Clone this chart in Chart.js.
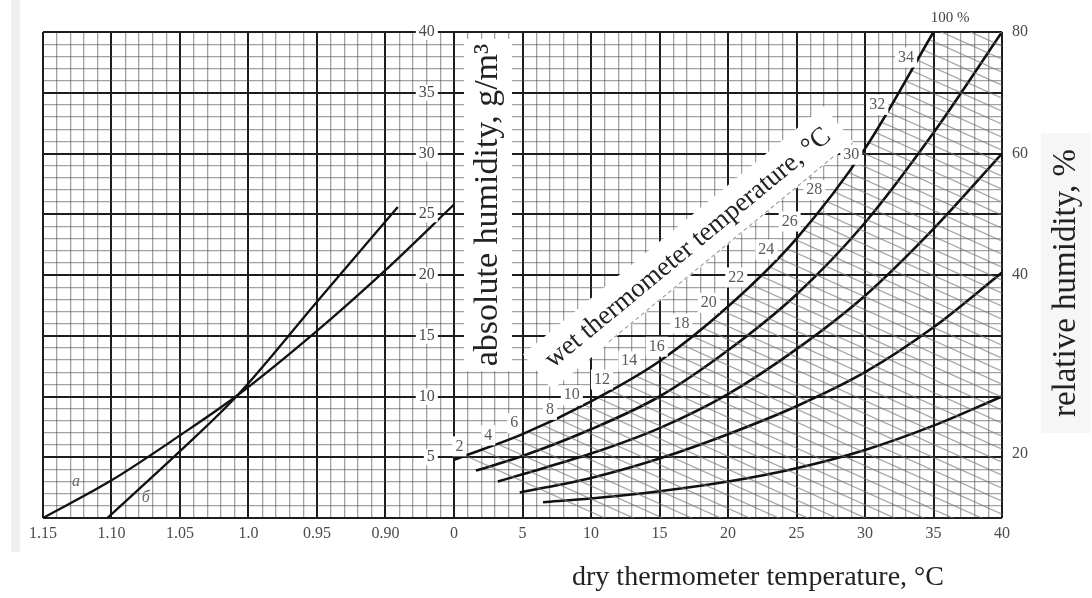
<!DOCTYPE html>
<html>
<head>
<meta charset="utf-8">
<title>Psychrometric chart</title>
<script src="https://cdn.jsdelivr.net/npm/chart.js@4.4.1/dist/chart.umd.min.js"></script>
<style>
    html, body { margin: 0; padding: 0; background: #fff; }
    #wrap { position: relative; width: 1092px; height: 598px; }
    #edge { position: absolute; left: 11px; top: 0; width: 9px; height: 552px; background: #efefef; }
    canvas { position: absolute; left: 0; top: 0; }
</style>
</head>
<body>
<div id="wrap">
    <div id="edge"></div>
    <canvas id="chart" width="1092" height="598"></canvas>
</div>
<script>
// relative humidity curves: dry temperature (°C) -> absolute humidity (g/m3)
const rh100X = [0, 5, 10, 15, 20, 25, 30, 35];
const rh100Y = [4.8, 6.9, 9.6, 12.9, 17.4, 23.0, 30.4, 40];
const rh80X = [1.6, 5, 10, 15, 20, 25, 30, 35, 40];
const rh80Y = [3.9, 5.1, 7.3, 10.0, 13.8, 18.4, 24.3, 31.7, 40];
const rh60X = [3.2, 5, 10, 15, 20, 25, 30, 35, 40];
const rh60Y = [3.0, 3.6, 5.3, 7.4, 10.2, 13.9, 18.3, 23.8, 30];
const rh40X = [4.8, 10, 15, 20, 25, 30, 35, 40];
const rh40Y = [2.1, 3.3, 4.9, 6.9, 9.2, 12.0, 15.7, 20.2];
const rh20X = [6.5, 10, 15, 20, 25, 30, 35, 40];
const rh20Y = [1.3, 1.6, 2.2, 3.0, 4.1, 5.6, 7.6, 10.0];

// lower edge of the wet-bulb hatching (the 0 °C wet-bulb line)
const hatchEdgeX = [0, 9.5, 40];
const hatchEdgeY = [4.8, 0, 0];
// hatched strip right of the 100 % curve
const hatchCornerX = [35, 40];
const hatchCornerY = [40, 40];

// left panel: lines a and б
const lineAX = [1.15, 1.10, 1.05, 1.008, 0.95, 0.90, 0.85];
const lineAY = [0, 3.1, 6.8, 10.1, 15.4, 20.4, 25.8];
const lineBX = [1.103, 1.05, 1.008, 0.95, 0.891];
const lineBY = [0, 5.5, 10.1, 17.8, 25.6];

// wet thermometer labels along the saturation curve
const wetLabels = ['2', '4', '6', '8', '10', '12', '14', '16', '18', '20', '22', '24', '26', '28', '30', '32', '34'];
const wetLabelX = [0.4, 2.5, 4.4, 7.0, 8.6, 10.8, 12.8, 14.8, 16.6, 18.6, 20.6, 22.8, 24.5, 26.3, 29.0, 30.9, 33.0];
const wetLabelY = [5.9, 6.8, 7.8, 8.9, 10.1, 11.4, 12.9, 14.1, 16.0, 17.7, 19.8, 22.1, 24.4, 27.0, 29.9, 34.0, 37.9];

// tick labels
const absTicks = [40, 35, 30, 25, 20, 15, 10, 5];
const leftTickValues = [1.15, 1.10, 1.05, 1.00, 0.95, 0.90];
const leftTickLabels = ['1.15', '1.10', '1.05', '1.0', '0.95', '0.90'];
const rhTickLabels = ['80', '60', '40', '20'];
const rhTickAt = [40, 30, 20, 5.3];

const serif = '"Liberation Serif", "Times New Roman", serif';
const majorColor = '#1d1d1d';
const minorColor = 'rgba(70, 70, 70, 0.5)';

const pts = (xs, ys) => xs.map((x, i) => ({ x, y: ys[i] }));

function makeHatch() {
    const w = 29, h = 13;
    const c = document.createElement('canvas');
    c.width = w;
    c.height = h;
    const g = c.getContext('2d');
    g.strokeStyle = 'rgba(120, 120, 120, 0.65)';
    g.lineWidth = 1.2;
    for (let k = -1; k <= 1; k++) {
        g.beginPath();
        g.moveTo(-2, k * h - 2 * h / w);
        g.lineTo(w + 2, k * h + h + 2 * h / w);
        g.stroke();
    }
    return g.createPattern(c, 'repeat');
}
const hatch = makeHatch();

function curve(xs, ys, axis = 'x') {
    return {
        data: pts(xs, ys),
        xAxisID: axis,
        yAxisID: 'y',
        borderColor: '#111',
        borderWidth: 2.6,
        pointRadius: 0,
        cubicInterpolationMode: 'monotone',
        fill: false,
    };
}

function textAt(ctx, text, x, y, o) {
    ctx.save();
    ctx.translate(x, y);
    if (o.angle) ctx.rotate(o.angle);
    ctx.font = o.font;
    ctx.textAlign = o.align || 'center';
    ctx.textBaseline = 'middle';
    const w = ctx.measureText(text).width;
    if (o.bg) {
        const left = o.align === 'right' ? -w : o.align === 'left' ? 0 : -w / 2;
        ctx.fillStyle = o.bg;
        ctx.fillRect(left - o.padX, -o.h / 2 - o.padY, w + 2 * o.padX, o.h + 2 * o.padY);
    }
    if (o.dash) {
        ctx.strokeStyle = 'rgba(120, 120, 120, 0.8)';
        ctx.lineWidth = 1;
        ctx.setLineDash([4, 3]);
        ctx.beginPath();
        ctx.moveTo(-w / 2 + 60, o.dash);
        ctx.lineTo(w / 2 - 10, o.dash);
        ctx.stroke();
    }
    ctx.fillStyle = o.color;
    ctx.fillText(text, 0, 0);
    ctx.restore();
}

const annotations = {
    id: 'annotations',
    afterDatasetsDraw(chart) {
        const { ctx } = chart;
        const { x, xl, y } = chart.scales;

        // absolute humidity tick labels inside the left panel
        const colX = xl.getPixelForValue(0.864);
        absTicks.forEach((v) => {
            textAt(ctx, String(v), colX, y.getPixelForValue(v), {
                font: `16px ${serif}`, color: '#4a4a4a', align: 'right', bg: '#fff', h: 14, padX: 3, padY: 1,
            });
        });

        // wet thermometer values
        wetLabels.forEach((t, i) => {
            textAt(ctx, t, x.getPixelForValue(wetLabelX[i]), y.getPixelForValue(wetLabelY[i]), {
                font: `16px ${serif}`, color: '#5a5a5a', bg: '#fff', h: 14, padX: 3, padY: 3,
            });
        });

        // absolute humidity title
        textAt(ctx, 'absolute humidity, g/m³', 488, 205, {
            font: `34px ${serif}`, color: '#222', angle: -Math.PI / 2, bg: '#fff', h: 44, padX: 5, padY: 2,
        });

        // wet thermometer title
        textAt(ctx, 'wet thermometer temperature, °C', 688, 248, {
            font: `27px ${serif}`, color: '#222', angle: -39.5 * Math.PI / 180, bg: '#fff',
            h: 34, padX: 14, padY: 6, dash: 22,
        });

        // line labels in the left panel
        textAt(ctx, 'a', xl.getPixelForValue(1.126), y.getPixelForValue(3.0), {
            font: `italic 16px ${serif}`, color: '#666',
        });
        textAt(ctx, 'б', xl.getPixelForValue(1.075), y.getPixelForValue(1.7), {
            font: `italic 16px ${serif}`, color: '#666',
        });
    },
    afterDraw(chart) {
        const { ctx } = chart;
        textAt(ctx, '100 %', 950, 18, { font: `15px ${serif}`, color: '#444' });
        textAt(ctx, 'relative humidity, %', 1066, 283, {
            font: `33px ${serif}`, color: '#222', angle: -Math.PI / 2, bg: '#f6f6f6', h: 46, padX: 16, padY: 2,
        });
        textAt(ctx, 'dry thermometer temperature, °C', 758, 578, { font: `28px ${serif}`, color: '#222' });
    },
};

const isMajor = (n) => Math.abs(Math.round(n) % 5) === 0;

new Chart(document.getElementById('chart'), {
    type: 'line',
    data: {
        datasets: [
            {
                data: pts(hatchEdgeX, hatchEdgeY),
                xAxisID: 'x',
                yAxisID: 'y',
                borderWidth: 0,
                pointRadius: 0,
                fill: false,
            },
            {
                ...curve(rh100X, rh100Y),
                fill: 0,
                backgroundColor: hatch,
            },
            {
                data: pts(hatchCornerX, hatchCornerY),
                xAxisID: 'x',
                yAxisID: 'y',
                borderWidth: 0,
                pointRadius: 0,
                fill: 'origin',
                backgroundColor: hatch,
            },
            curve(rh80X, rh80Y),
            curve(rh60X, rh60Y),
            curve(rh40X, rh40Y),
            curve(rh20X, rh20Y),
            { ...curve(lineAX, lineAY, 'xl'), borderWidth: 2.3 },
            { ...curve(lineBX, lineBY, 'xl'), borderWidth: 2.3 },
        ],
    },
    options: {
        responsive: false,
        animation: false,
        events: [],
        layout: { padding: { left: 43, top: 32, right: 50, bottom: 50 } },
        plugins: {
            legend: { display: false },
            tooltip: { enabled: false },
        },
        scales: {
            xl: {
                type: 'linear',
                position: 'bottom',
                stack: 'dry',
                stackWeight: 30,
                reverse: true,
                min: 0.85,
                max: 1.15,
                border: { display: false },
                grid: {
                    drawTicks: false,
                    color: (c) => (isMajor(c.tick.value * 100) ? majorColor : minorColor),
                    lineWidth: (c) => (isMajor(c.tick.value * 100) ? 2 : 1.3),
                },
                ticks: {
                    stepSize: 0.01,
                    precision: 2,
                    autoSkip: false,
                    maxRotation: 0,
                    padding: 6,
                    color: '#4a4a4a',
                    font: { family: serif, size: 16 },
                    callback: (v) => {
                        const i = leftTickValues.findIndex((t) => Math.abs(t - v) < 1e-6);
                        return i >= 0 ? leftTickLabels[i] : '';
                    },
                },
                afterFit: (s) => { s.height = 30; },
            },
            x: {
                type: 'linear',
                position: 'bottom',
                stack: 'dry',
                stackWeight: 40,
                min: 0,
                max: 40,
                border: { display: false },
                grid: {
                    drawTicks: false,
                    color: (c) => (isMajor(c.tick.value) ? majorColor : minorColor),
                    lineWidth: (c) => (isMajor(c.tick.value) ? 2 : 1.3),
                },
                ticks: {
                    stepSize: 1,
                    autoSkip: false,
                    maxRotation: 0,
                    padding: 6,
                    color: '#4a4a4a',
                    font: { family: serif, size: 16 },
                    callback: (v) => (v % 5 === 0 ? String(v) : ''),
                },
                afterFit: (s) => { s.height = 30; },
            },
            y: {
                type: 'linear',
                position: 'left',
                min: 0,
                max: 40,
                border: { display: false },
                grid: {
                    drawTicks: false,
                    color: (c) => (isMajor(c.tick.value) ? majorColor : minorColor),
                    lineWidth: (c) => (isMajor(c.tick.value) ? 2 : 1.3),
                },
                ticks: { display: false, stepSize: 1 },
                afterFit: (s) => { s.width = 0; },
            },
            y2: {
                type: 'linear',
                position: 'right',
                min: 0,
                max: 40,
                border: { display: false },
                grid: { display: false, drawTicks: false },
                afterBuildTicks: (s) => {
                    s.ticks = rhTickAt.map((value) => ({ value }));
                },
                ticks: {
                    padding: 10,
                    color: '#4a4a4a',
                    font: { family: serif, size: 16 },
                    callback: (v, i) => rhTickLabels[i],
                },
                afterFit: (s) => { s.width = 40; },
            },
        },
    },
    plugins: [annotations],
});
</script>
</body>
</html>
